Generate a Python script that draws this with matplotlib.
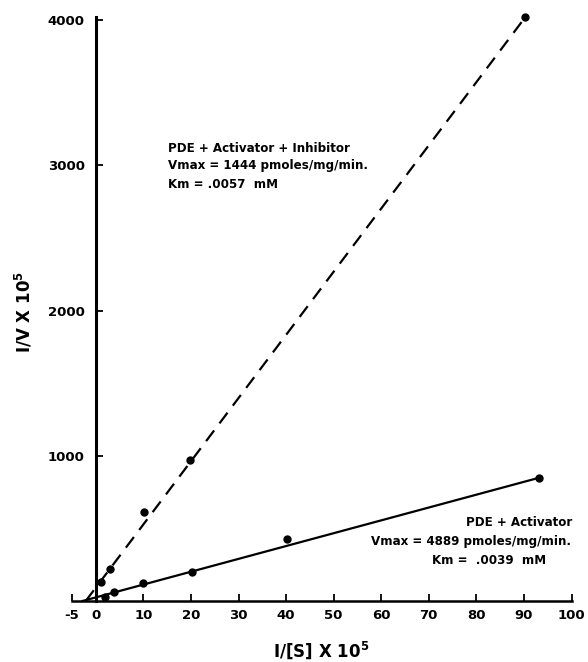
import matplotlib
matplotlib.use("Agg")
import matplotlib.pyplot as plt
import numpy as np

plt.rcParams['font.family'] = ['DejaVu Sans']
plt.rcParams['mathtext.default'] = 'bf'

# Data
inh_x = [1.2, 3.0, 10.2, 19.7, 90.3]
inh_y = [133, 220, 615, 971, 4019]
act_x = [1.9, 3.9, 10.0, 20.3, 40.2, 93.2]
act_y = [25, 59, 124, 200, 429, 849]

# fitted lines (slope, intercept, x-range)
inh_slope, inh_icpt = 43.5, 92.0
inh_xrange = [-2.1, 90.3]
act_slope, act_icpt = 8.84, 24.75
act_xrange = [-2.8, 93.2]

xticks = [-5, 0, 10, 20, 30, 40, 50, 60, 70, 80, 90, 100]
xticklabels = ['-5', '0', '10', '20', '30', '40', '50', '60', '70', '80', '90', '100']
yticks = [1000, 2000, 3000, 4000]
yticklabels = ['1000', '2000', '3000', '4000']

fig = plt.figure(figsize=(5.88, 6.62), dpi=100)
ax = fig.add_axes([72/588, 1-601/662, 499.5/588, (4040*0.14525)/662])
ax.set_xlim(-5, 100)
ax.set_ylim(0, 4040)

for s in ['top', 'right']:
    ax.spines[s].set_visible(False)
ax.spines['left'].set_position(('data', 0))
ax.spines['left'].set_bounds(0, 4020)
ax.spines['left'].set_linewidth(2.2)
ax.spines['bottom'].set_linewidth(1.8)

xl = np.array(inh_xrange)
ax.plot(xl, inh_slope*xl + inh_icpt, color='black', lw=1.6, ls=(0, (6, 4)), clip_on=False)
xl2 = np.array(act_xrange)
ax.plot(xl2, act_slope*xl2 + act_icpt, color='black', lw=1.6, clip_on=False)
ax.plot(inh_x, inh_y, 'o', color='black', ms=5, clip_on=False)
ax.plot(act_x, act_y, 'o', color='black', ms=5, clip_on=False)

ax.set_xticks(xticks)
ax.set_xticklabels(xticklabels, fontsize=9.5, fontweight='bold')
ax.set_yticks(yticks)
ax.set_yticklabels(yticklabels, fontsize=9.5, fontweight='bold')
ax.tick_params(axis='x', direction='in', length=5, width=1.3, pad=6)
ax.tick_params(axis='y', direction='in', length=5, width=1.3, pad=8)

fig.text(321/588, 1-650/662, 'I/[S] X 10$^{5}$', ha='center', va='center',
         fontsize=12, fontweight='bold')
fig.text(24/588, 1-312/662, 'I/V X 10$^{5}$', ha='center', va='center',
         rotation=90, fontsize=12, fontweight='bold')

tk = dict(fontsize=8.6, fontweight='bold', va='center', transform=fig.transFigure)
fig.text(168/588, 1-148/662, 'PDE + Activator + Inhibitor', **tk)
fig.text(168/588, 1-166/662, 'Vmax = 1444 pmoles/mg/min.', **tk)
fig.text(168/588, 1-184/662, 'Km = .0057  mM', **tk)

fig.text(572/588, 1-522/662, 'PDE + Activator', ha='right', **tk)
fig.text(571/588, 1-541/662, 'Vmax = 4889 pmoles/mg/min.', ha='right', **tk)
fig.text(546/588, 1-560/662, 'Km =  .0039  mM', ha='right', **tk)

fig.savefig('out.png', dpi=100)
